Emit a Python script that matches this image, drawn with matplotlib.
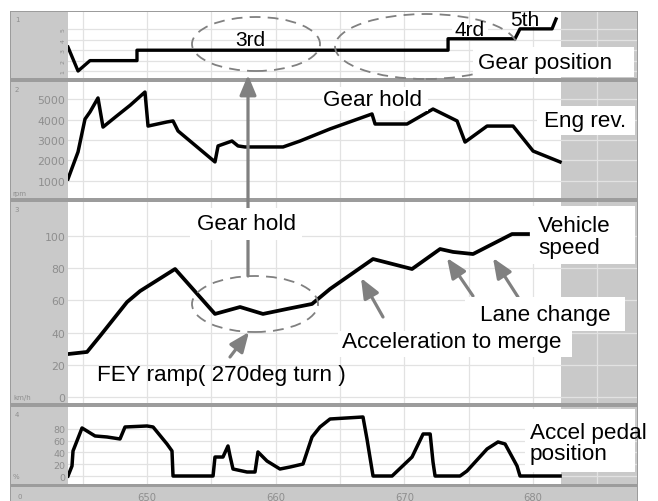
import matplotlib
matplotlib.use('Agg')
import matplotlib.pyplot as plt
from matplotlib.patches import Rectangle, Ellipse, FancyArrowPatch

W, H = 658, 502
plt.rcParams['font.family'] = ['Liberation Sans', 'DejaVu Sans']

# ── data (time in s) ─────────────────────────────────────────────
gear_t = [643.86, 644.64, 645.57, 649.22, 649.22, 673.39, 673.39, 678.59, 678.98, 681.47, 681.78]
gear_v = [3.3, 1.0, 2.0, 2.0, 3.0, 3.0, 4.1, 4.1, 5.05, 5.05, 6.0]

rev_t = [643.86, 644.64, 645.18, 645.57, 646.19, 646.58, 647.6, 648.7, 649.84, 650.08,
         651.55, 652.02, 652.41, 655.28, 655.52, 656.60, 657.07, 657.61, 660.57, 661.89,
         664.22, 667.48, 667.72, 670.20, 672.22, 674.09, 674.71, 676.42, 678.44, 680.00, 682.09]
rev_v = [1100, 2420, 4020, 4370, 5050, 3630, 4150, 4700, 5340, 3680,
         3880, 3930, 3440, 1930, 2710, 2950, 2710, 2660, 2660, 2950,
         3540, 4270, 3780, 3780, 4510, 3930, 2900, 3680, 3680, 2460, 1930]

spd_t = [643.86, 645.34, 646.35, 648.45, 649.46, 652.18, 655.28, 657.23, 659.01, 660.88,
         662.82, 664.22, 667.56, 670.59, 672.77, 673.78, 675.33, 678.36, 679.60]
spd_v = [26.7, 28.0, 37.9, 59.0, 65.8, 79.5, 51.6, 55.9, 51.6, 54.7,
         57.8, 67.1, 85.7, 79.5, 91.9, 90.1, 88.8, 101.2, 101.2]

ped_t = [643.86, 644.17, 644.25, 644.95, 645.96, 646.89, 647.90, 648.29, 650.0, 650.47,
         651.55, 651.94, 652.02, 655.13, 655.28, 655.90, 656.29, 656.45, 656.68, 657.77,
         658.39, 658.62, 659.32, 660.33, 661.11, 662.12, 662.82, 663.44, 664.22, 666.78,
         667.09, 667.56, 669.04, 670.59, 671.45, 672.0, 672.22, 672.38, 674.32, 674.86,
         676.42, 677.27, 677.82, 678.75, 678.98, 682.09]
ped_v = [0, 17, 42.6, 81.7, 68.1, 66.4, 63, 83.4, 85.1, 83.4,
         54.5, 42.6, 0, 0, 32.3, 32.3, 51.1, 34, 11.9, 6.8,
         6.8, 40.9, 25.5, 11.9, 15.3, 20.4, 66.4, 83.4, 97, 100.4,
         63, 0, 0, 32.3, 71.5, 71.5, 23.8, 0, 0, 8.5,
         46, 57.9, 54.5, 17, 0, 0]

xticks = [645, 650, 655, 660, 665, 670, 675, 680, 685]
rev_ticks = [1000, 2000, 3000, 4000, 5000]
spd_ticks = [0, 20, 40, 60, 80, 100]
ped_ticks = [0, 20, 40, 60, 80]
gear_ticks = [1, 2, 3, 4, 5]

XLIM = (643.86, 688.07)
DATA_END = 682.2

C_BG = '#c9c9c9'
C_SEP = '#9c9c9c'
C_TICK = '#8e8e8e'
C_ANN = '#808080'

fig = plt.figure(figsize=(W / 100, H / 100), dpi=100)
fig.patch.set_facecolor('white')


def fx(x):
    return x / W


def fy(y):
    return 1 - y / H


def rect(x0, y0, x1, y1, color, z):
    fig.add_artist(Rectangle((fx(x0), fy(y1)), (x1 - x0) / W, (y1 - y0) / H,
                             transform=fig.transFigure, facecolor=color,
                             edgecolor='none', zorder=z))


def label(x, y, s, fs=16.2, **kw):
    kw.setdefault('ha', 'center')
    fig.text(fx(x), fy(y), s, va='center', fontsize=fs, color='black',
             zorder=6, **kw)


def arrow(x0, y0, x1, y1):
    fig.add_artist(FancyArrowPatch((fx(x0), fy(y0)), (fx(x1), fy(y1)),
                                   transform=fig.transFigure,
                                   arrowstyle='-|>,head_length=0.6,head_width=0.25',
                                   mutation_scale=20, color=C_ANN, lw=2.3,
                                   shrinkA=0, shrinkB=0, zorder=3))


def ellipse(cx, cy, w, h):
    fig.add_artist(Ellipse((fx(cx), fy(cy)), w / W, h / H,
                           transform=fig.transFigure, fill=False,
                           edgecolor=C_ANN, lw=1.3, linestyle=(0, (6, 4)),
                           zorder=3))


# frame / left label column / bottom strip
rect(10, 12, 638, 502, C_SEP, -3)
panels = [(13, 79), (83, 199), (203, 404), (408, 485)]
for top, bot in panels:
    rect(11, top, 68, bot, C_BG, -2)
rect(11, 488, 637, 502, C_BG, -2)

axes = []
for top, bot in panels:
    ax = fig.add_axes([fx(68), fy(bot), (637 - 68) / W, (bot - top) / H])
    ax.set_facecolor('white')
    for s in ax.spines.values():
        s.set_visible(False)
    ax.set_xlim(*XLIM)
    ax.set_xticks(xticks)
    ax.set_xticklabels([])
    ax.grid(True, color='#e2e2e2', lw=0.9)
    ax.set_axisbelow(True)
    ax.axvspan(DATA_END, XLIM[1] + 1, color=C_BG, lw=0, zorder=0.5)
    ax.tick_params(length=0, labelsize=7.8, labelcolor=C_TICK, pad=2)
    axes.append(ax)

ax1, ax2, ax3, ax4 = axes

ax1.plot(gear_t, gear_v, color='black', lw=2.4, zorder=2)
ax1.set_ylim(0.33, 6.67)
ax1.set_yticks(gear_ticks)
ax1.set_yticklabels([str(g) for g in gear_ticks], rotation=90, fontsize=4.5,
                    family='DejaVu Sans', color=C_TICK)

ax2.plot(rev_t, rev_v, color='black', lw=2.5, zorder=2)
ax2.set_ylim(170, 5830)
ax2.set_yticks(rev_ticks)
ax2.set_yticklabels([str(v) for v in rev_ticks], family='DejaVu Sans')

ax3.plot(spd_t, spd_v, color='black', lw=2.7, zorder=2)
ax3.set_ylim(-3.7, 121.1)
ax3.set_yticks(spd_ticks)
ax3.set_yticklabels([str(v) for v in spd_ticks], family='DejaVu Sans')

ax4.plot(ped_t, ped_v, color='black', lw=2.5, zorder=2)
ax4.set_ylim(-13.6, 117.4)
ax4.set_yticks(ped_ticks)
ax4.set_yticklabels([str(v) for v in ped_ticks], family='DejaVu Sans', fontsize=6.8)
ax4.set_xticklabels([str(t) if t % 10 == 0 else '' for t in xticks],
                    family='DejaVu Sans')
ax4.tick_params(axis='x', pad=6, labelsize=7.2, labelcolor=C_TICK)

# small panel captions in the left column
for s, x, y in [('1', 17, 20), ('2', 17, 90), ('3', 17, 210), ('4', 17, 415),
                ('rpm', 19, 194), ('km/h', 22, 398), ('%', 16, 477), ('0', 20, 497)]:
    fig.text(fx(x), fy(y), s, fontsize=5, color=C_TICK, ha='center', va='center',
             family='DejaVu Sans')

# ── annotations ─────────────────────────────────────────────────
ellipse(256, 45, 128, 54)
ellipse(426, 47.5, 182, 65)
ellipse(255, 305, 126, 56)

arrow(248, 277, 248, 76)
arrow(230, 358, 249, 333)
arrow(383, 318, 361, 279)
arrow(473, 297, 447, 259)
arrow(518, 298, 493, 259)

# white label boxes
for x0, y0, x1, y1 in [(452, 25, 488, 38), (509, 13, 541, 27), (473, 48, 634, 78),
                       (322, 88, 428, 112), (537, 107, 635, 136), (190, 209, 302, 241),
                       (530, 207, 635, 265), (465, 298, 625, 332), (338, 332, 572, 358),
                       (525, 410, 635, 473)]:
    rect(x0, y0, x1, y1, 'white', 4)

label(250, 41, '3rd', fs=15)
label(470, 31, '4rd', fs=15)
label(525, 20, '5th', fs=15)
label(545, 63, 'Gear position')
label(373, 100, 'Gear hold')
label(585, 122, 'Eng rev.')
label(246, 225, 'Gear hold')
label(538, 237.5, 'Vehicle\nspeed', ha='left', linespacing=1.1)
label(545, 315, 'Lane change')
label(452, 343, 'Acceleration to merge')
label(221, 376, 'FEY ramp( 270deg turn )')
label(530, 444, 'Accel pedal\nposition', ha='left', linespacing=1.0)

fig.savefig('out.png', dpi=100, facecolor='white')
